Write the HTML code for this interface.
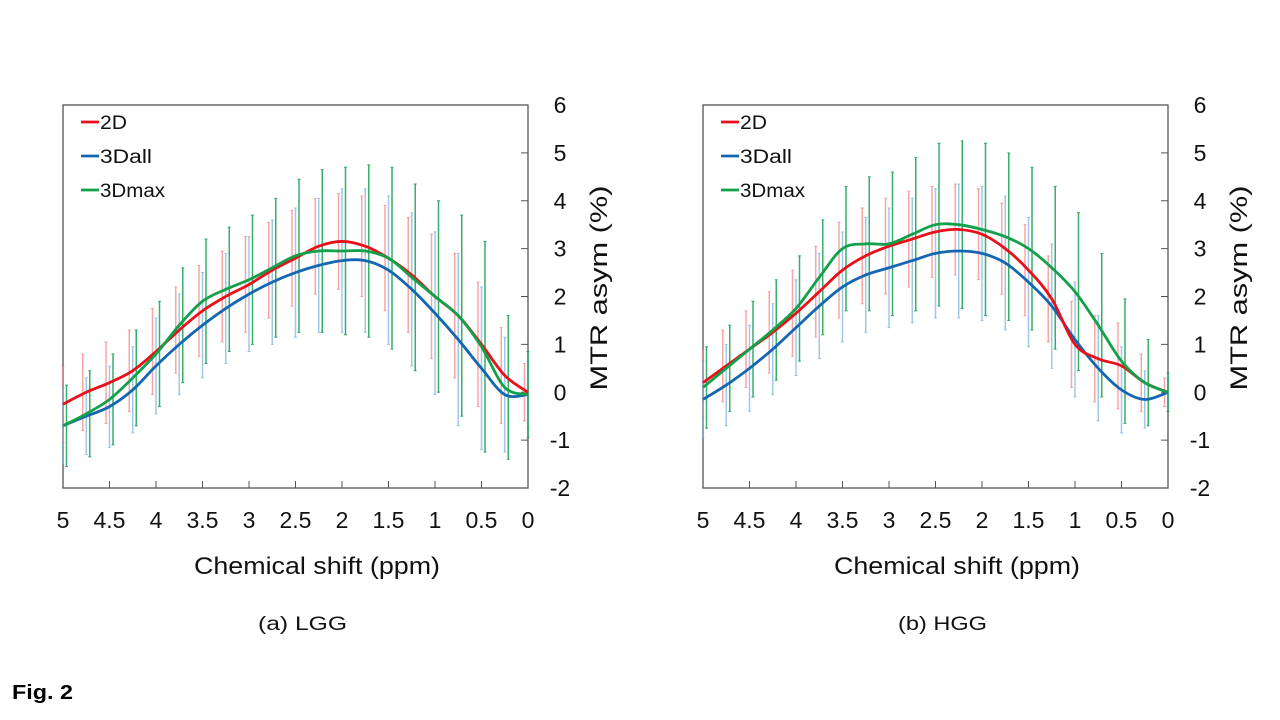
<!DOCTYPE html>
<html><head><meta charset="utf-8"><style>
body{margin:0;background:#fff;width:1280px;height:720px;overflow:hidden;font-family:"Liberation Sans",Arial,sans-serif}
svg{position:absolute;left:0;top:0}
</style></head><body>
<svg id="fig" width="1280" height="720">
<text x="12" y="699" font-size="20" font-weight="bold" textLength="61" lengthAdjust="spacingAndGlyphs">Fig. 2</text>
</svg>
<script>
const xs=[5,4.75,4.5,4.25,4,3.75,3.5,3.25,3,2.75,2.5,2.25,2,1.75,1.5,1.25,1,0.75,0.5,0.25,0];
const xTicks=["5","4.5","4","3.5","3","2.5","2","1.5","1","0.5","0"];
const yTicks=[-2,-1,0,1,2,3,4,5,6];
const seriesNames=["2D","3Dall","3Dmax"];
// LGG
const lgg2D=[-0.25,0.0,0.2,0.45,0.85,1.3,1.7,2.0,2.25,2.55,2.8,3.05,3.15,3.05,2.8,2.45,2.0,1.6,1.0,0.35,0.0];
const lgg3Dall=[-0.7,-0.5,-0.3,0.05,0.55,1.0,1.4,1.75,2.05,2.3,2.5,2.65,2.75,2.75,2.55,2.15,1.65,1.1,0.5,-0.05,-0.05];
const lgg3Dmax=[-0.7,-0.45,-0.15,0.3,0.8,1.4,1.9,2.15,2.35,2.6,2.85,2.95,2.95,2.95,2.8,2.4,2.0,1.6,0.95,0.1,-0.05];
const lggSd2D=[0.8,0.8,0.85,0.85,0.9,0.9,0.95,0.95,1.0,1.0,1.0,1.0,1.0,1.05,1.1,1.2,1.3,1.3,1.3,1.0,0.6];
const lggSd3Dall=[0.8,0.8,0.85,0.9,1.0,1.05,1.1,1.15,1.2,1.3,1.35,1.4,1.5,1.5,1.55,1.6,1.7,1.8,1.7,1.2,0.7];
const lggSd3Dmax=[0.85,0.9,0.95,1.0,1.1,1.2,1.3,1.3,1.35,1.45,1.6,1.7,1.75,1.8,1.9,1.95,2.0,2.1,2.2,1.5,0.9];
// HGG
const hgg2D=[0.2,0.55,0.9,1.25,1.65,2.1,2.55,2.85,3.05,3.2,3.35,3.4,3.3,3.0,2.55,1.95,1.0,0.7,0.55,0.2,0.0];
const hgg3Dall=[-0.15,0.15,0.5,0.9,1.35,1.8,2.2,2.45,2.6,2.75,2.9,2.95,2.9,2.7,2.3,1.8,1.1,0.5,0.05,-0.15,0.0];
const hgg3Dmax=[0.1,0.5,0.9,1.3,1.75,2.4,3.0,3.1,3.1,3.3,3.5,3.5,3.4,3.25,3.0,2.6,2.1,1.4,0.65,0.2,0.0];
const hggSd2D=[0.7,0.75,0.8,0.85,0.9,0.95,1.0,1.0,1.0,1.0,0.95,0.95,0.95,0.95,0.95,0.9,0.9,0.9,0.9,0.6,0.3];
const hggSd3Dall=[0.8,0.85,0.9,0.95,1.0,1.1,1.15,1.2,1.25,1.3,1.35,1.4,1.4,1.4,1.35,1.3,1.2,1.1,0.9,0.6,0.3];
const hggSd3Dmax=[0.85,0.9,1.0,1.05,1.1,1.2,1.3,1.4,1.5,1.6,1.7,1.75,1.8,1.75,1.7,1.7,1.65,1.5,1.3,0.9,0.4];

const NS="http://www.w3.org/2000/svg";
const svg=document.getElementById('fig');
function mk(tag,attrs,parent){const e=document.createElementNS(NS,tag);for(const k in attrs)e.setAttribute(k,attrs[k]);(parent||svg).appendChild(e);return e;}
const colors=["#e8101a","#1466b0","#13a04a"];
const barColors=["rgba(240,120,120,0.65)","rgba(110,170,220,0.65)","rgba(20,160,80,0.85)"];

function smooth(pts){let d="M"+pts[0][0]+","+pts[0][1];for(let i=0;i<pts.length-1;i++){const p0=pts[Math.max(0,i-1)],p1=pts[i],p2=pts[i+1],p3=pts[Math.min(pts.length-1,i+2)];
const c1=[p1[0]+(p2[0]-p0[0])/6,p1[1]+(p2[1]-p0[1])/6],c2=[p2[0]-(p3[0]-p1[0])/6,p2[1]-(p3[1]-p1[1])/6];d+=" C"+c1.join(",")+" "+c2.join(",")+" "+p2.join(",");}return d;}

function panel(ox,name,means,sds,caption){
  const L=ox,R=ox+465,T=105,B=488;
  const X=v=>L+(5-v)/5*(R-L);
  const Y=v=>B-(v+2)/8*(B-T);
  const g=mk('g',{});
  
  
  const box=mk('rect',{x:L,y:T,width:R-L,height:B-T,fill:'none',stroke:'#555','stroke-width':1.3},g);
  
  
  yTicks.forEach(v=>{
    if(v>-2&&v<6) mk('line',{x1:R-7,x2:R,y1:Y(v),y2:Y(v),stroke:'#555'},g);
    const t=mk('text',{x:R+32,y:Y(v)+8,'font-size':23,'text-anchor':'middle',fill:'#111'},g);t.textContent=v;
    
    
  });
  xTicks.forEach((s,i)=>{const v=parseFloat(s);
    if(v>0&&v<5) mk('line',{x1:X(v),x2:X(v),y1:B-7,y2:B,stroke:'#555'},g);
    const t=mk('text',{x:X(v),y:528,'font-size':23,'text-anchor':'middle',fill:'#111'},g);t.textContent=s;
    
    
  });
  const yt=mk('text',{x:0,y:0,'font-size':24,'text-anchor':'middle',fill:'#111',textLength:205,lengthAdjust:'spacingAndGlyphs',transform:`translate(${R+79},288) rotate(-90)`},g);yt.textContent='MTR asym (%)';
  
  
  const xt=mk('text',{x:L+131,y:574,'font-size':24,fill:'#111',textLength:246,lengthAdjust:'spacingAndGlyphs'},g);xt.textContent='Chemical shift (ppm)';
  
  
  const cp=mk('text',{x:L+195,y:630,'font-size':19,fill:'#111',textLength:89,lengthAdjust:'spacingAndGlyphs'},g);cp.textContent=caption;
  
  
  // error bars
  [0,1,2].forEach(si=>{
    xs.forEach((x,i)=>{
      const off=(si-1)*3.5;const px=Math.min(R,Math.max(L,X(x)+off));
      const y1=Y(means[si][i]+sds[si][i]),y2=Y(means[si][i]-sds[si][i]);
      const b=mk('line',{x1:px,x2:px,y1:y1,y2:y2,stroke:barColors[si],'stroke-width':1.5},g);
      
      
      mk('line',{x1:px-1.5,x2:px+1.5,y1:y1,y2:y1,stroke:barColors[si]},g);
      mk('line',{x1:px-1.5,x2:px+1.5,y1:y2,y2:y2,stroke:barColors[si]},g);
    });
  });
  [1,0,2].forEach(si=>{
    const p=mk('path',{d:smooth(xs.map((x,i)=>[X(x),Y(means[si][i])])),fill:'none',stroke:colors[si],'stroke-width':2.8},g);
    
    
  });
  const lw=[27,52,65];
  seriesNames.forEach((n,i)=>{
    const y=122+i*34;
    mk('line',{x1:L+18,x2:L+36,y1:y,y2:y,stroke:colors[i],'stroke-width':2.8},g);
    const t=mk('text',{x:L+37,y:y+7,'font-size':19,fill:'#111',textLength:lw[i],lengthAdjust:'spacingAndGlyphs'},g);t.textContent=n;
    
    
  });
}
panel(63,'lgg',[lgg2D,lgg3Dall,lgg3Dmax],[lggSd2D,lggSd3Dall,lggSd3Dmax],'(a) LGG');
panel(703,'hgg',[hgg2D,hgg3Dall,hgg3Dmax],[hggSd2D,hggSd3Dall,hggSd3Dmax],'(b) HGG');
</script>
</body></html>
